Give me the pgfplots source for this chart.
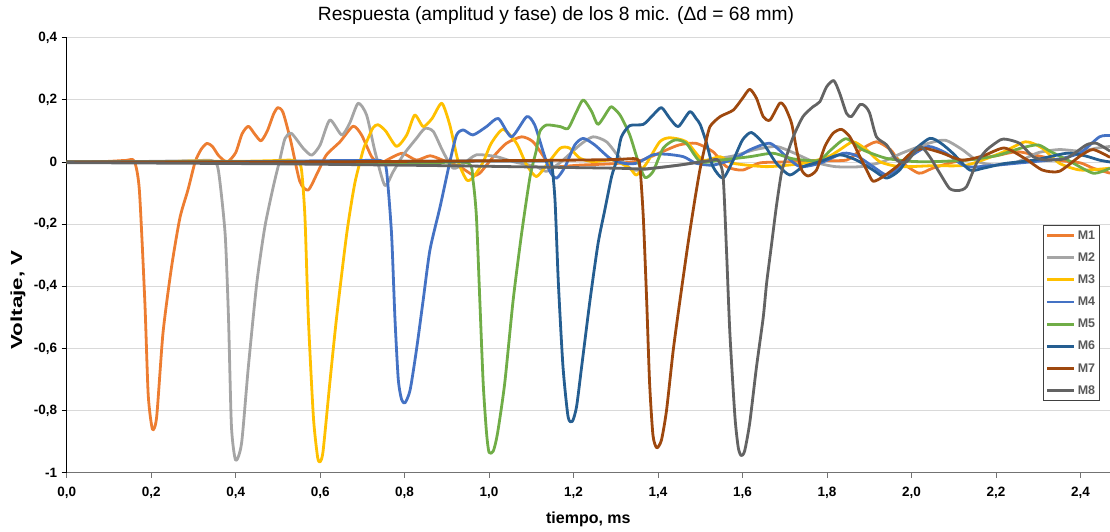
\documentclass[border=0pt]{standalone}
\usepackage{fontspec}
\setmainfont{Liberation Sans}
\usepackage{pgfplots}
\pgfplotsset{compat=1.18}

\definecolor{cM1}{HTML}{ED7D31}
\definecolor{cM2}{HTML}{A5A5A5}
\definecolor{cM3}{HTML}{FFC000}
\definecolor{cM4}{HTML}{4472C4}
\definecolor{cM5}{HTML}{70AD47}
\definecolor{cM6}{HTML}{255E91}
\definecolor{cM7}{HTML}{9E480E}
\definecolor{cM8}{HTML}{636363}
\definecolor{gridgray}{HTML}{D9D9D9}
\definecolor{legtext}{HTML}{595959}

\pgfplotsset{
  mic/.style={line width=2.8pt, smooth, tension=0.4, line join=round},
}

\begin{document}
\begin{tikzpicture}
\useasboundingbox (0,0) rectangle (1110pt,531pt);
\begin{axis}[
  at={(66.7pt,58.3pt)}, anchor=south west,
  scale only axis, width=1043.3pt, height=435pt,
  xmin=0, xmax=2.47, ymin=-1, ymax=0.4,
  xtick={0,0.2,0.4,0.6,0.8,1.0,1.2,1.4,1.6,1.8,2.0,2.2,2.4},
  ytick={-1,-0.8,-0.6,-0.4,-0.2,0,0.2,0.4},
  axis x line=bottom, axis y line=left,
  x axis line style={-, draw=black!55, line width=1pt},
  y axis line style={-, draw=black, line width=0.8pt},
  tick align=outside, major tick length=5pt,
  xtick style={draw=black!55, line width=0.8pt},
  ytick style={draw=black, line width=0.8pt},
  ymajorgrids, grid style={draw=gridgray, line width=0.8pt},
  ticklabel style={font=\fontsize{13.5}{15}\selectfont\bfseries},
  xticklabel style={yshift=-6pt, /pgf/number format/.cd, fixed, fixed zerofill, precision=1, use comma, assume math mode=true},
  yticklabel style={xshift=-1pt, /pgf/number format/.cd, fixed, precision=1, use comma, assume math mode=true},
  xlabel={tiempo, ms},
  ylabel={Voltaje, V},
  label style={font=\fontsize{16}{18}\selectfont\bfseries},
  xlabel style={at={(axis description cs:0.5,-0.108)}, anchor=center},
  ylabel style={at={(axis description cs:-0.0467,0.397)}, anchor=center, rotate=0, xscale=1.4},
  legend style={at={(0.9904,0.5694)}, anchor=north east, draw=black!75, line width=0.8pt,
    font=\fontsize{12.5}{14}\selectfont\bfseries, text=legtext, cells={anchor=west},
    row sep=8pt, inner xsep=2.5pt, inner ysep=3pt},
  legend image code/.code={\draw[#1] (0pt,0pt) -- (27pt,0pt);},
]
% M1
\addplot[mic, cM1] coordinates {
(0,0) (0.05,0) (0.10,0.002) (0.14,0.005) (0.16,0.003) (0.172,-0.09) (0.185,-0.45)
(0.193,-0.75) (0.203,-0.86) (0.213,-0.82) (0.228,-0.55) (0.248,-0.34) (0.268,-0.18)
(0.287,-0.09) (0.304,0.0) (0.318,0.04) (0.332,0.06) (0.345,0.05) (0.36,0.02) (0.38,0.0)
(0.40,0.03) (0.415,0.09) (0.43,0.115) (0.445,0.09) (0.46,0.068) (0.475,0.1) (0.49,0.155)
(0.50,0.175) (0.512,0.16) (0.53,0.07) (0.552,-0.063) (0.572,-0.09) (0.595,-0.031)
(0.615,0.023) (0.647,0.065) (0.678,0.115) (0.698,0.087) (0.722,0.017) (0.741,-0.004)
(0.773,0.017) (0.796,0.028) (0.828,0.006) (0.86,0.02) (0.89,0.006) (0.93,-0.015)
(0.962,-0.042) (0.978,-0.036) (1.01,0.017) (1.041,0.06) (1.077,0.081) (1.104,0.065)
(1.132,0.012) (1.151,-0.015) (1.215,-0.01) (1.3,-0.005) (1.36,0.005) (1.41,0.033)
(1.45,0.055) (1.49,0.06) (1.53,0.033) (1.562,-0.015) (1.60,-0.026) (1.641,-0.003)
(1.70,0.0) (1.76,0.005) (1.846,0.006) (1.88,0.04) (1.917,0.065) (1.95,0.04) (1.97,0.006)
(2.017,-0.036) (2.05,-0.02) (2.10,0.0) (2.15,0.01) (2.2,0.02) (2.25,0.033) (2.3,0.02)
(2.35,0.005) (2.4,-0.003) (2.43,-0.02) (2.47,-0.036)
};
\addlegendentry{M1}
% M2
\addplot[mic, cM2] coordinates {
(0,0) (0.1,0) (0.2,0.002) (0.3,0.004) (0.345,0.004) (0.359,-0.026) (0.375,-0.23)
(0.383,-0.5) (0.39,-0.85) (0.400,-0.96) (0.414,-0.905) (0.43,-0.66) (0.45,-0.39)
(0.469,-0.21) (0.489,-0.08) (0.505,0.01) (0.517,0.076) (0.532,0.092) (0.56,0.044)
(0.58,0.022) (0.6,0.055) (0.623,0.135) (0.651,0.087) (0.67,0.125) (0.69,0.189)
(0.71,0.151) (0.73,0.033) (0.753,-0.075) (0.773,-0.031) (0.797,0.023) (0.828,0.076)
(0.848,0.108) (0.868,0.098) (0.891,0.033) (0.915,-0.02) (0.94,-0.005) (0.97,0.023)
(1.018,0.017) (1.057,0.001) (1.112,-0.015) (1.136,-0.03) (1.17,0.0) (1.215,0.055)
(1.246,0.081) (1.278,0.065) (1.31,0.012) (1.341,-0.026) (1.39,-0.02) (1.45,-0.01)
(1.52,0.006) (1.58,0.02) (1.63,0.04) (1.68,0.05) (1.72,0.03) (1.77,0.0) (1.82,-0.015)
(1.88,-0.015) (1.93,0.0) (1.98,0.03) (2.04,0.06) (2.08,0.07) (2.12,0.04) (2.16,0.0)
(2.2,-0.01) (2.25,0.0) (2.3,0.03) (2.35,0.04) (2.4,0.035) (2.44,0.045) (2.47,0.05)
};
\addlegendentry{M2}
% M3
\addplot[mic, cM3] coordinates {
(0,0) (0.2,0) (0.3,0.003) (0.4,0.002) (0.48,0.004) (0.53,0.006) (0.548,0.0)
(0.556,-0.026) (0.564,-0.176) (0.572,-0.5) (0.584,-0.82) (0.594,-0.95) (0.600,-0.965)
(0.607,-0.93) (0.623,-0.71) (0.639,-0.5) (0.663,-0.23) (0.682,-0.069) (0.702,0.039)
(0.71,0.065) (0.725,0.11) (0.737,0.12) (0.755,0.1) (0.781,0.05) (0.805,0.087)
(0.824,0.151) (0.844,0.114) (0.865,0.14) (0.888,0.189) (0.907,0.119) (0.927,0.001)
(0.947,-0.058) (0.962,-0.05) (0.986,0.0) (1.005,0.06) (1.033,0.105) (1.065,0.06)
(1.089,-0.01) (1.112,-0.047) (1.136,-0.01) (1.168,0.044) (1.19,0.045) (1.215,0.012)
(1.246,0.001) (1.293,0.006) (1.333,-0.02) (1.349,-0.042) (1.373,-0.004) (1.404,0.065)
(1.428,0.078) (1.467,0.065) (1.506,0.006) (1.547,0.017) (1.577,-0.004) (1.657,-0.015)
(1.74,-0.005) (1.8,0.015) (1.83,0.039) (1.862,0.065) (1.894,0.039) (1.925,0.001)
(1.972,-0.015) (2.05,-0.012) (2.13,-0.01) (2.21,0.028) (2.27,0.065) (2.31,0.044)
(2.35,-0.004) (2.4,-0.026) (2.47,-0.02)
};
\addlegendentry{M3}
% M4
\addplot[mic, cM4] coordinates {
(0,0) (0.3,0) (0.5,0.002) (0.6,0.004) (0.7,0.005) (0.745,0.004) (0.757,-0.026)
(0.769,-0.23) (0.777,-0.5) (0.785,-0.7) (0.793,-0.765) (0.801,-0.775) (0.813,-0.734)
(0.828,-0.605) (0.844,-0.444) (0.86,-0.283) (0.884,-0.144) (0.907,0.0) (0.923,0.087)
(0.939,0.103) (0.962,0.087) (0.994,0.114) (1.022,0.14) (1.053,0.081) (1.089,0.146)
(1.108,0.119) (1.128,0.033) (1.144,-0.031) (1.16,-0.052) (1.18,-0.015) (1.203,0.055)
(1.223,0.076) (1.25,0.055) (1.286,0.012) (1.317,-0.004) (1.349,-0.004) (1.388,0.023)
(1.42,0.025) (1.46,0.017) (1.49,-0.004) (1.53,-0.01) (1.58,0.01) (1.617,0.039)
(1.665,0.06) (1.704,0.017) (1.736,-0.015) (1.783,-0.004) (1.838,0.028) (1.87,0.02)
(1.909,-0.015) (1.941,-0.042) (1.97,-0.02) (2.0,0.02) (2.04,0.05) (2.08,0.03)
(2.13,-0.015) (2.2,-0.01) (2.28,0.0) (2.35,0.01) (2.4,0.03) (2.445,0.081) (2.47,0.085)
};
\addlegendentry{M4}
% M5
\addplot[mic, cM5] coordinates {
(0,0) (0.5,0) (0.7,-0.002) (0.85,-0.003) (0.95,-0.003) (0.962,-0.06) (0.97,-0.176)
(0.978,-0.444) (0.986,-0.712) (0.994,-0.873) (1.0,-0.935) (1.01,-0.93) (1.02,-0.873)
(1.037,-0.712) (1.057,-0.444) (1.077,-0.23) (1.097,-0.047) (1.112,0.039) (1.12,0.098)
(1.136,0.119) (1.168,0.114) (1.187,0.108) (1.207,0.162) (1.223,0.2) (1.243,0.162)
(1.258,0.121) (1.282,0.167) (1.29,0.178) (1.31,0.151) (1.333,0.087) (1.353,0.001)
(1.369,-0.05) (1.388,-0.031) (1.412,0.044) (1.44,0.071) (1.467,0.06) (1.5,0.001)
(1.547,0.006) (1.617,0.017) (1.672,0.028) (1.72,0.01) (1.78,0.005) (1.81,0.04)
(1.845,0.075) (1.885,0.039) (1.94,0.012) (2.0,0.002) (2.05,0.001) (2.13,0.006)
(2.2,0.02) (2.26,0.045) (2.3,0.055) (2.33,0.033) (2.37,0.006) (2.43,-0.036) (2.47,-0.02)
};
\addlegendentry{M5}
% M6
\addplot[mic, cM6] coordinates {
(0,0) (0.5,0) (0.8,0.002) (1.0,0.003) (1.14,0.003) (1.148,-0.004) (1.156,-0.122)
(1.164,-0.39) (1.175,-0.66) (1.187,-0.82) (1.197,-0.835) (1.207,-0.788) (1.219,-0.66)
(1.239,-0.444) (1.258,-0.262) (1.274,-0.154) (1.29,-0.047) (1.302,0.006) (1.313,0.08)
(1.333,0.117) (1.365,0.121) (1.388,0.151) (1.408,0.175) (1.428,0.14) (1.448,0.114)
(1.475,0.162) (1.49,0.14) (1.5,0.12) (1.515,0.06) (1.53,-0.015) (1.554,-0.052)
(1.578,0.006) (1.6,0.071) (1.621,0.095) (1.649,0.06) (1.68,-0.004) (1.712,-0.042)
(1.743,-0.015) (1.783,0.001) (1.83,0.023) (1.87,0.006) (1.909,-0.026) (1.941,-0.052)
(1.972,-0.026) (2.0,0.03) (2.043,0.076) (2.07,0.06) (2.098,0.028) (2.138,-0.026)
(2.17,-0.02) (2.22,-0.005) (2.29,0.006) (2.367,0.028) (2.41,0.02) (2.445,0.006) (2.47,0.0)
};
\addlegendentry{M6}
% M7
\addplot[mic, cM7] coordinates {
(0,0) (0.5,0) (0.8,0.002) (1.0,0.004) (1.2,0.006) (1.3,0.008) (1.349,0.01)
(1.357,-0.015) (1.365,-0.176) (1.373,-0.444) (1.38,-0.712) (1.388,-0.88) (1.397,-0.92)
(1.408,-0.895) (1.42,-0.8) (1.436,-0.605) (1.452,-0.444) (1.471,-0.262) (1.487,-0.122)
(1.499,-0.026) (1.511,0.05) (1.523,0.114) (1.547,0.146) (1.578,0.167) (1.6,0.205)
(1.617,0.234) (1.633,0.205) (1.649,0.146) (1.665,0.135) (1.688,0.189) (1.7,0.178)
(1.716,0.125) (1.728,0.039) (1.74,-0.026) (1.755,-0.045) (1.775,-0.026) (1.795,0.05)
(1.814,0.092) (1.834,0.105) (1.854,0.081) (1.878,0.017) (1.894,-0.026) (1.909,-0.062)
(1.933,-0.047) (1.965,-0.015) (2.0,0.03) (2.03,0.044) (2.07,0.03) (2.12,0.006)
(2.17,0.02) (2.22,0.045) (2.27,0.01) (2.31,-0.026) (2.35,-0.03) (2.4,0.02) (2.43,0.04)
(2.47,0.015)
};
\addlegendentry{M7}
% M8
\addplot[mic, cM8] coordinates {
(0,-0.002) (0.5,-0.006) (0.9,-0.012) (1.1,-0.016) (1.3,-0.02) (1.37,-0.022)
(1.45,-0.01) (1.52,0.004) (1.542,0.006) (1.554,-0.047) (1.562,-0.283) (1.57,-0.55)
(1.582,-0.82) (1.59,-0.92) (1.597,-0.945) (1.605,-0.93) (1.617,-0.84) (1.633,-0.66)
(1.649,-0.5) (1.657,-0.39) (1.669,-0.262) (1.68,-0.144) (1.692,-0.036) (1.702,0.01)
(1.72,0.081) (1.743,0.146) (1.767,0.178) (1.783,0.194) (1.799,0.242) (1.816,0.262)
(1.83,0.221) (1.846,0.157) (1.858,0.146) (1.878,0.185) (1.89,0.18) (1.901,0.157)
(1.917,0.081) (1.941,0.055) (1.965,0.006) (1.988,0.0) (2.02,0.05) (2.043,0.017)
(2.067,-0.036) (2.09,-0.085) (2.11,-0.092) (2.13,-0.08) (2.154,-0.004) (2.178,0.039)
(2.21,0.071) (2.225,0.073) (2.256,0.06) (2.288,0.017) (2.32,0.006) (2.367,0.012)
(2.414,0.055) (2.438,0.06) (2.47,0.035)
};
\addlegendentry{M8}
\end{axis}
\node[font=\fontsize{19.2}{21}\selectfont] at (556pt,515pt)
  {Respuesta (amplitud y fase) de los 8 mic. (Δd = 68 mm)};
\end{tikzpicture}
\end{document}
